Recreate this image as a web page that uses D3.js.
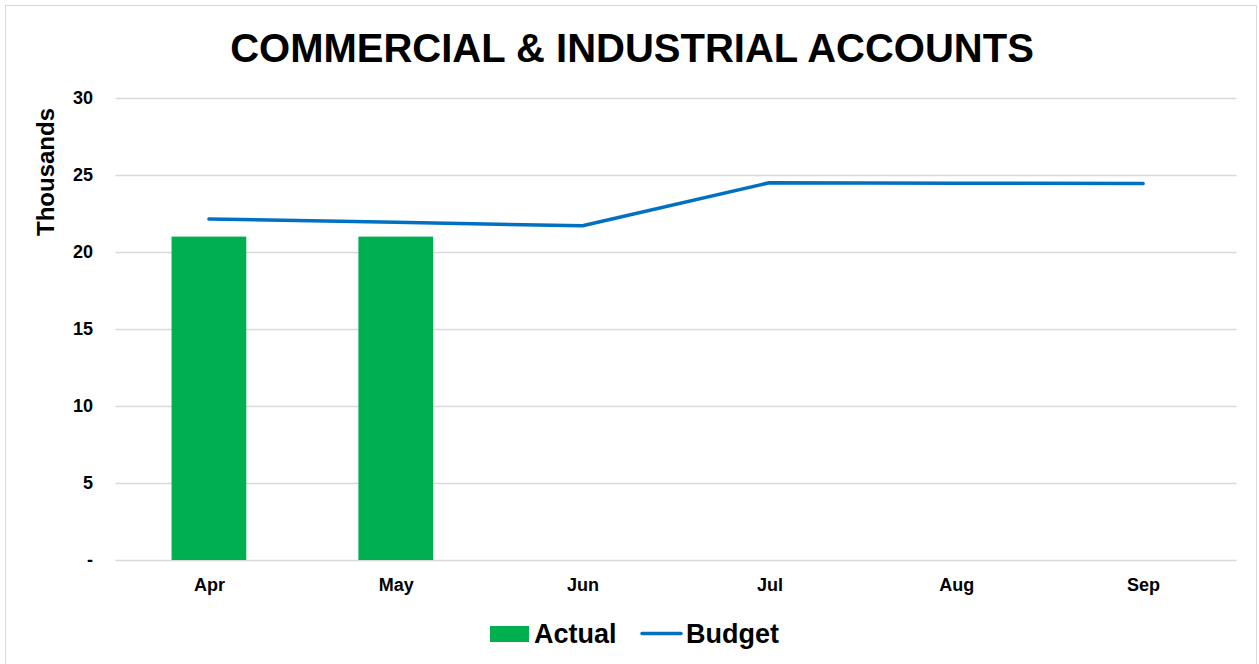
<!DOCTYPE html>
<html><head><meta charset="utf-8">
<script src="https://cdn.jsdelivr.net/npm/d3@7"></script>
<style>body{margin:0;background:#fff;}svg{display:block;font-family:"Liberation Sans",Arial,sans-serif;}</style>
</head><body><svg id="c" width="1259" height="664"></svg>
<script>
const categories = ["Apr","May","Jun","Jul","Aug","Sep"];
const actual = [21.0, 21.0, null, null, null, null];
const budget = [22.14, 21.93, 21.7, 24.5, 24.47, 24.44];
const yTicks = [0,5,10,15,20,25,30];

const svg = d3.select("#c");
svg.append("rect").attr("x",5.5).attr("y",5.5).attr("width",1251).attr("height",670).attr("fill","none").attr("stroke","#d9d9d9");

const x = d3.scaleBand().domain(categories).range([115.5,1236.5]).paddingInner(0.6).paddingOuter(0.3);
const xc = d3.scalePoint().domain(categories).range([115.5,1236.5]).padding(0.5);
const y = d3.scaleLinear().domain([0,30]).range([560,98]);

svg.append("g").selectAll("line").data(yTicks).join("line")
 .attr("x1",115.5).attr("x2",1236.5).attr("y1",d=>Math.round(y(d))+0.5).attr("y2",d=>Math.round(y(d))+0.5)
 .attr("stroke","#d9d9d9").attr("stroke-width",1.3);

const yAxis = svg.append("g").attr("transform","translate(102,0)")
 .call(d3.axisLeft(y).tickValues(yTicks).tickSize(0).tickPadding(0).tickFormat(d=>d===0?"-":d));
yAxis.select(".domain").remove();
yAxis.selectAll("text").attr("font-size",18).attr("font-weight","bold").attr("fill","#000").attr("font-family","Liberation Sans, Arial, sans-serif").attr("x",-9);

const xAxis = svg.append("g").attr("transform","translate(0,560)")
 .call(d3.axisBottom(xc).tickSize(0).tickPadding(0));
xAxis.select(".domain").remove();
xAxis.selectAll("text").attr("font-size",18).attr("font-weight","bold").attr("fill","#000").attr("font-family","Liberation Sans, Arial, sans-serif").attr("y",18);

svg.append("g").selectAll("rect").data(categories.map((c,i)=>({c,v:actual[i]})).filter(d=>d.v!=null)).join("rect")
 .attr("x",d=>x(d.c)).attr("width",x.bandwidth()).attr("y",d=>y(d.v)).attr("height",d=>y(0)-y(d.v)).attr("fill","#00B050");

const line = d3.line().x((d,i)=>xc(categories[i])).y(d=>y(d));
svg.append("path").datum(budget).attr("d",line).attr("fill","none").attr("stroke","#0070C0").attr("stroke-width",3.5).attr("stroke-linecap","round").attr("stroke-linejoin","round");

svg.append("text").attr("x",632).attr("y",62).attr("text-anchor","middle").attr("font-size",40).attr("font-weight","bold").text("COMMERCIAL & INDUSTRIAL ACCOUNTS");

svg.append("text").attr("transform","translate(54,172) rotate(-90)").attr("text-anchor","middle").attr("font-size",24).attr("font-weight","bold").text("Thousands");

const lg = svg.append("g");
lg.append("rect").attr("x",490).attr("y",626).attr("width",39).attr("height",16).attr("fill","#00B050");
lg.append("text").attr("x",534).attr("y",643).attr("font-size",27).attr("font-weight","bold").text("Actual");
lg.append("line").attr("x1",642).attr("x2",681).attr("y1",633.5).attr("y2",633.5).attr("stroke","#0070C0").attr("stroke-width",3.5).attr("stroke-linecap","round");
lg.append("text").attr("x",686).attr("y",643).attr("font-size",27).attr("font-weight","bold").text("Budget");
</script></body></html>
